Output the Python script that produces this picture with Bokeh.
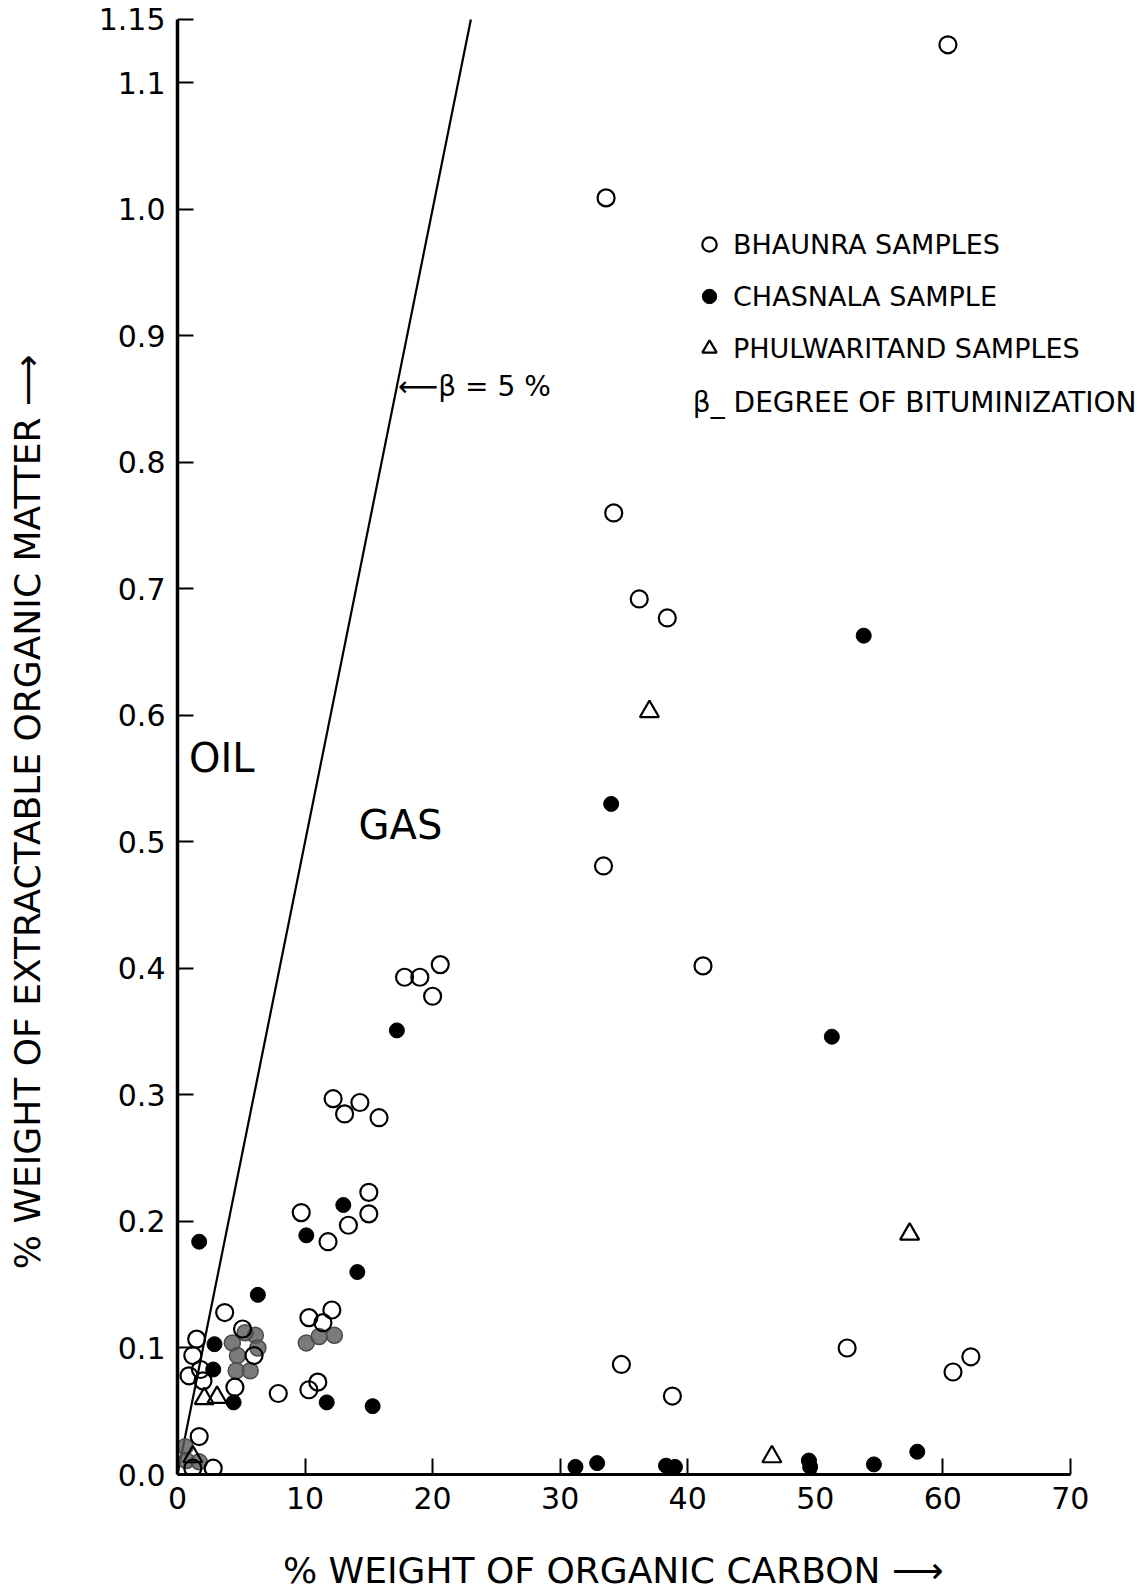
from bokeh.plotting import figure
from bokeh.models import Range1d, FixedTicker, Label, Legend, LegendItem
from bokeh.embed import file_html
from bokeh.resources import INLINE

FONT = "DejaVu Sans"

# ---- data ----
# Bhaunra samples (open circles): % organic carbon, % extractable organic matter
bhaunra_c = [60.4, 33.6, 34.2, 36.2, 38.4, 33.4, 41.2, 34.8, 38.8, 52.5, 60.8, 62.2,
             17.8, 19.0, 20.0, 20.6,
             12.2, 13.1, 14.3, 15.8,
             9.7, 15.0, 15.0, 13.4, 11.8,
             10.3, 12.1, 11.4,
             10.3, 11.0, 7.9, 4.5,
             3.7, 1.5, 1.2, 0.9, 1.8, 2.0, 5.1, 6.0,
             1.7, 2.8, 1.2]
bhaunra_eom = [1.13, 1.009, 0.760, 0.692, 0.677, 0.481, 0.402, 0.087, 0.062, 0.100, 0.081, 0.093,
               0.393, 0.393, 0.378, 0.403,
               0.297, 0.285, 0.294, 0.282,
               0.207, 0.223, 0.206, 0.197, 0.184,
               0.124, 0.130, 0.120,
               0.067, 0.073, 0.064, 0.069,
               0.128, 0.107, 0.094, 0.078, 0.083, 0.074, 0.115, 0.094,
               0.030, 0.005, 0.005]

# Chasnala samples (filled circles)
chasnala_c = [53.8, 34.0, 51.3, 17.2, 13.0, 10.1, 14.1, 1.7, 6.3, 2.9, 2.8, 4.4, 11.7, 15.3,
              31.2, 32.9, 38.3, 39.0, 49.5, 49.6, 54.6, 58.0]
chasnala_eom = [0.663, 0.530, 0.346, 0.351, 0.213, 0.189, 0.160, 0.184, 0.142, 0.103, 0.083,
                0.057, 0.057, 0.054,
                0.006, 0.009, 0.007, 0.006, 0.011, 0.006, 0.008, 0.018]

# Overlapping (grey, poorly resolved) points in the dense clusters
overlap_c = [4.3, 6.1, 4.7, 4.6, 5.7, 6.3, 5.3, 10.1, 11.1, 12.3, 0.6, 0.7, 1.7]
overlap_eom = [0.104, 0.110, 0.094, 0.082, 0.082, 0.100, 0.112, 0.104, 0.109, 0.110,
               0.022, 0.011, 0.010]

# Phulwaritand samples (open triangles)
phul_c = [37.0, 57.4, 46.6, 2.1, 3.1, 1.2]
phul_eom = [0.603, 0.190, 0.014, 0.060, 0.061, 0.014]

# Degree of bituminization line, beta = 5 %
beta_pct = 5
beta_c = [0, 23]
beta_eom = [c * beta_pct / 100 for c in beta_c]

x_ticks = [0, 10, 20, 30, 40, 50, 60, 70]
y_ticks = [0.0, 0.1, 0.2, 0.3, 0.4, 0.5, 0.6, 0.7, 0.8, 0.9, 1.0, 1.1, 1.15]
y_tick_labels = ["0.0", "0.1", "0.2", "0.3", "0.4", "0.5", "0.6", "0.7", "0.8", "0.9",
                 "1.0", "1.1", "1.15"]

# ---- figure ----
p = figure(width=1142, height=1594, output_backend="svg", toolbar_location=None,
           x_range=Range1d(0, 75.5), y_range=Range1d(0, 1.165),
           min_border_left=177, min_border_right=2, min_border_top=0, min_border_bottom=120)
p.outline_line_color = None
p.grid.visible = False
p.background_fill_color = "white"
p.border_fill_color = "white"

for ax in (p.xaxis[0], p.yaxis[0]):
    ax.axis_line_color = "black"
    ax.major_tick_line_color = "black"
    ax.major_tick_line_width = 2
    ax.major_tick_in = 16
    ax.major_tick_out = 0
    ax.minor_tick_line_color = None
    ax.major_label_text_font = FONT
    ax.major_label_text_font_size = "30px"
    ax.major_label_text_color = "black"
    ax.axis_label_text_font = FONT
    ax.axis_label_text_font_style = "normal"
    ax.axis_label_text_font_size = "36px"
    ax.axis_label_text_color = "black"

p.xaxis.ticker = FixedTicker(ticks=x_ticks)
p.xaxis.bounds = (x_ticks[0], x_ticks[-1])
p.xaxis.axis_line_width = 3
p.xaxis.major_label_standoff = 12
p.xaxis.axis_label = "% WEIGHT OF ORGANIC CARBON \u27f6" + "\u00a0" * 8
p.xaxis.axis_label_standoff = 38

p.yaxis.ticker = FixedTicker(ticks=y_ticks)
p.yaxis.bounds = (y_ticks[0], y_ticks[-1])
p.yaxis.major_label_overrides = dict(zip(y_ticks, y_tick_labels))
p.yaxis.axis_line_width = 3.5
p.yaxis.major_label_standoff = 12
p.yaxis.axis_label = "% WEIGHT OF EXTRACTABLE ORGANIC MATTER \u27f6" + "\u00a0" * 13
p.yaxis.axis_label_standoff = 48

# beta line
p.line(beta_c, beta_eom, line_color="black", line_width=2.2)

# points
p.scatter(overlap_c, overlap_eom, marker="circle", size=16, fill_color="#5a5a5a",
          fill_alpha=0.8, line_color="#4a4a4a", line_width=1.5)
r_ch = p.scatter(chasnala_c, chasnala_eom, marker="circle", size=15,
                 fill_color="black", line_color="black", line_width=1)
r_bh = p.scatter(bhaunra_c, bhaunra_eom, marker="circle", size=17,
                 fill_color=None, line_color="black", line_width=2.2)
r_ph = p.scatter(phul_c, phul_eom, marker="triangle", size=19,
                 fill_color=None, line_color="black", line_width=2.2)

legend = Legend(items=[LegendItem(label="BHAUNRA SAMPLES", renderers=[r_bh]),
                       LegendItem(label="CHASNALA SAMPLE", renderers=[r_ch]),
                       LegendItem(label="PHULWARITAND SAMPLES", renderers=[r_ph])],
                location=(514, 1108), border_line_color=None, background_fill_alpha=0,
                label_text_font=FONT, label_text_font_size="27px", label_text_color="black",
                glyph_width=36, glyph_height=36, label_height=36, spacing=16,
                label_standoff=6, padding=0, margin=0)
p.add_layout(legend)

text_style = dict(text_font=FONT, text_color="black", text_baseline="middle")
p.add_layout(Label(x=40.4, y=0.847, text="\u03b2_ DEGREE OF BITUMINIZATION",
                   text_font_size="28px", **text_style))
p.add_layout(Label(x=17.3, y=0.86, text="\u27f5\u03b2 = 5 %",
                   text_font_size="28px", **text_style))
p.add_layout(Label(x=0.9, y=0.566, text="OIL", text_font_size="40px", **text_style))
p.add_layout(Label(x=14.2, y=0.513, text="GAS", text_font_size="40px", **text_style))

open("out.html", "w").write(file_html(p, INLINE))
